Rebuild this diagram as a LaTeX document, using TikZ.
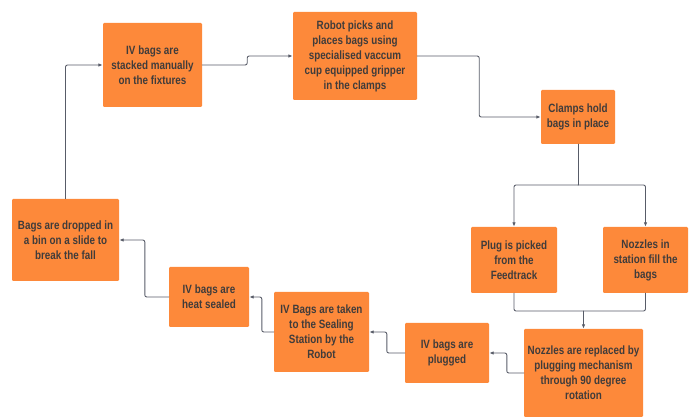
\documentclass[tikz,border=0pt]{standalone}
\usepackage{fontspec}
\setmainfont{Liberation Sans}[FakeStretch=0.82]
\usetikzlibrary{arrows.meta}
\definecolor{boxorange}{RGB}{253,137,58}
\definecolor{boxtext}{RGB}{64,60,58}
\definecolor{linegray}{RGB}{88,92,104}
\tikzset{
  procbox/.style={fill=boxorange,rounded corners=1.2pt,align=center,inner sep=0pt,
    font=\bfseries\fontsize{12}{15}\selectfont,text=boxtext},
  conn/.style={draw=linegray,line width=0.9pt,rounded corners=2pt},
}
\begin{document}
\begin{tikzpicture}[x=1pt,y=-1pt,>={Latex[length=4.5pt,width=3.5pt]},line cap=round,line join=round]
  \useasboundingbox (0,0) rectangle (697,419);
  % process steps
  \node[procbox,minimum width=99pt,minimum height=84pt] (stack) at (152.5,65) {IV bags are\\stacked manually\\on the fixtures};
  \node[procbox,minimum width=124pt,minimum height=88pt] (robot) at (355,56) {Robot picks and\\places bags using\\specialised vaccum\\cup equipped gripper\\in the clamps};
  \node[procbox,minimum width=74pt,minimum height=54pt] (clamp) at (578,117) {Clamps hold\\bags in place};
  \node[procbox,minimum width=86pt,minimum height=66pt] (plug) at (514,260) {Plug is picked\\from the\\Feedtrack};
  \node[procbox,minimum width=85pt,minimum height=66pt] (nozzle) at (645.5,260) {Nozzles in\\station fill the\\bags};
  \node[procbox,minimum width=119pt,minimum height=88pt] (replace) at (583.5,373) {Nozzles are replaced by\\plugging mechanism\\through 90 degree\\rotation};
  \node[procbox,minimum width=84pt,minimum height=60pt] (plugged) at (447,353) {IV bags are\\plugged};
  \node[procbox,minimum width=95pt,minimum height=80pt] (taken) at (321.5,332) {IV Bags are taken\\to the Sealing\\Station by the\\Robot};
  \node[procbox,minimum width=80pt,minimum height=60pt] (sealed) at (209,297) {IV bags are\\heat sealed};
  \node[procbox,minimum width=107pt,minimum height=82pt] (drop) at (65.5,240) {Bags are dropped in\\a bin on a slide to\\break the fall};
  % split and merge points
  \coordinate (split) at (578,185);
  \coordinate (merge) at (583.5,311);
  % connectors
  \draw[conn,->] (stack.east) -- ++(45,0) |- (robot.west);
  \draw[conn,->] (robot.east) -- ++(62,0) |- (clamp.west);
  \draw[conn] (clamp.south) -- (split);
  \draw[conn,->] (split) -| (plug.north);
  \draw[conn,->] (split) -| (nozzle.north);
  \draw[conn] (plug.south) |- (merge) -| (nozzle.south);
  \draw[conn,->] (merge) -- (replace.north);
  \draw[conn,->] (replace.west) -- ++(-17,0) |- (plugged.east);
  \draw[conn,->] (plugged.west) -- ++(-18,0) |- (taken.east);
  \draw[conn,->] (taken.west) -- ++(-12,0) |- (sealed.east);
  \draw[conn,->] (sealed.west) -- ++(-24,0) |- (drop.east);
  \draw[conn,->] (drop.north) |- (stack.west);
\end{tikzpicture}
\end{document}
